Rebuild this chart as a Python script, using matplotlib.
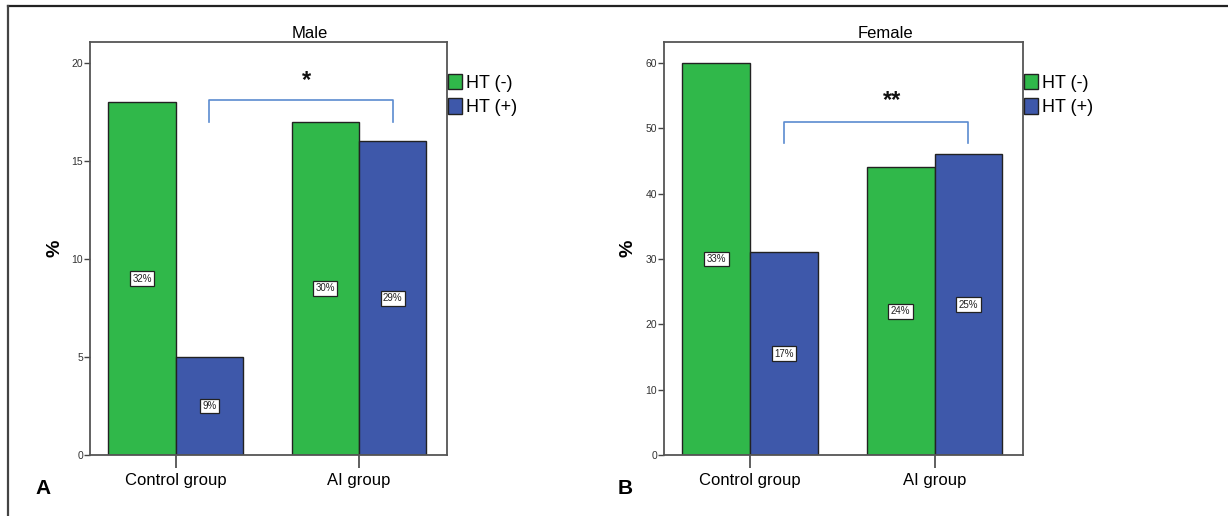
import matplotlib
matplotlib.use('Agg')
import matplotlib.pyplot as plt
from matplotlib.patches import Patch
from matplotlib.lines import Line2D
import numpy as np

plt.rcParams['font.family'] = ['Liberation Sans', 'DejaVu Sans']

groups = ['Control group', 'AI group']
series = ['HT (-)', 'HT (+)']
colors = ['#30b84a', '#3e58aa']

male_vals = [[18, 17], [5, 16]]
male_pct = [['32%', '30%'], ['9%', '29%']]
female_vals = [[60, 44], [31, 46]]
female_pct = [['33%', '24%'], ['17%', '25%']]

panels = ['Male', 'Female']
letters = ['A', 'B']
stars = ['*', '**']
ymax = [21.07, 63.2]
yticks = [[0, 5, 10, 15, 20], [0, 10, 20, 30, 40, 50, 60]]
bracket_hi = [18.1, 50.9]
bracket_lo = [17.0, 47.8]
star_x = [0.715, 0.77]
star_y = [19.1, 54.3]

W, H = 1228, 516
fig = plt.figure(figsize=(W / 100, H / 100), dpi=100)

def px(x, y, w, h):
    return [x / W, (H - y - h) / H, w / W, h / H]

axes_box = [(90, 42, 357, 413), (664, 42, 359, 413)]
title_x = [310, 885]
ylab_x = [55, 628]
letter_x = [43, 625]

bw = 0.368
for k in range(2):
    vals = [male_vals, female_vals][k]
    pcts = [male_pct, female_pct][k]
    ax = fig.add_axes(px(*axes_box[k]))
    x = np.arange(len(groups))
    for s in range(2):
        xs = x - bw / 2 + s * bw
        ax.bar(xs, vals[s], width=bw, color=colors[s], edgecolor='#222222', linewidth=1, zorder=2)
        for i in range(len(groups)):
            ax.text(xs[i], vals[s][i] / 2, pcts[s][i], ha='center', va='center', fontsize=7, color='#222222',
                    bbox=dict(boxstyle='square,pad=0.25', fc='white', ec='#222222', lw=0.9), zorder=3)
    # significance bracket between the two HT(+) bars
    bx0 = x[0] + bw / 2
    bx1 = x[1] + bw / 2
    ax.plot([bx0, bx0, bx1, bx1], [bracket_lo[k], bracket_hi[k], bracket_hi[k], bracket_lo[k]],
            color='#5b8bd0', lw=1.2, zorder=3)
    ax.text(star_x[k], star_y[k], stars[k], ha='center', va='center', fontsize=17,
            fontweight='bold', color='#111111')

    ax.set_xlim(-0.468, 1.48)
    ax.set_ylim(0, ymax[k])
    ax.set_yticks(yticks[k])
    ax.tick_params(axis='y', labelsize=7.5, labelcolor='#333333', length=4, width=1, color='#444444', pad=1)
    ax.set_xticks(x)
    ax.set_xticklabels(groups)
    ax.tick_params(axis='x', labelsize=12, length=9, width=1.2, color='#444444', pad=4)
    for sp in ax.spines.values():
        sp.set_color('#555555')
        sp.set_linewidth(1.3)

    handles = [Patch(facecolor=colors[s], edgecolor='#222222', lw=1) for s in range(2)]
    ax.legend(handles, series, loc='upper left', bbox_to_anchor=(1.004, 0.923), frameon=False,
              fontsize=13, handlelength=0.75, handleheight=0.95, handletextpad=0.2,
              labelspacing=0.35, borderpad=0, borderaxespad=0)

    fig.text(title_x[k] / W, 1 - 33 / H, panels[k], ha='center', va='center', fontsize=12)
    fig.text(ylab_x[k] / W, 1 - 248 / H, '%', rotation=90, ha='center', va='center', fontsize=14,
             fontweight='bold')
    fig.text(letter_x[k] / W, 1 - 489 / H, letters[k], ha='center', va='center', fontsize=15,
             fontweight='bold')

# outer frame (top and left edges)
fig.add_artist(Line2D([8 / W, 1.0], [1 - 6 / H, 1 - 6 / H], color='#222222', lw=1.6))
fig.add_artist(Line2D([8 / W, 8 / W], [1 - 6 / H, 0], color='#444444', lw=1.6))

fig.savefig('out.png', dpi=100)
